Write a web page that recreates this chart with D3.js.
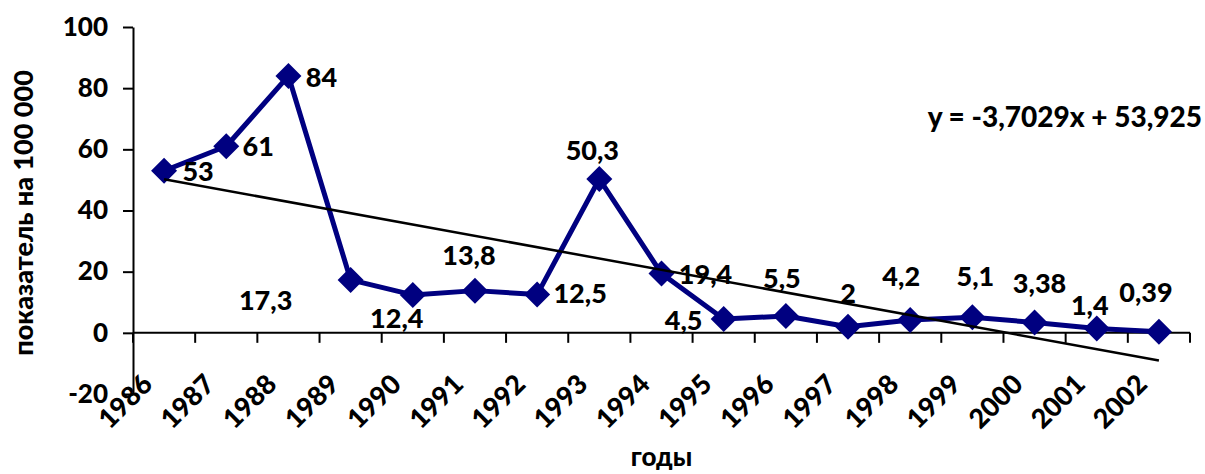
<!DOCTYPE html>
<html>
<head>
<meta charset="utf-8">
<script src="https://cdn.jsdelivr.net/npm/d3@7"></script>
<style>
  body { margin: 0; background: #fff; }
  text { font-family: Lato, "Open Sans", sans-serif; font-weight: 900; fill: #000; }
</style>
</head>
<body>
<svg id="chart" width="1205" height="474"></svg>
<script>
// Incidence per 100 000 population, by year
const years = ["1986", "1987", "1988", "1989", "1990", "1991", "1992", "1993", "1994",
               "1995", "1996", "1997", "1998", "1999", "2000", "2001", "2002"];
const values = [53, 61, 84, 17.3, 12.4, 13.8, 12.5, 50.3, 19.4, 4.5, 5.5, 2, 4.2, 5.1, 3.38, 1.4, 0.39];
const valueLabels = ["53", "61", "84", "17,3", "12,4", "13,8", "12,5", "50,3", "19,4",
                     "4,5", "5,5", "2", "4,2", "5,1", "3,38", "1,4", "0,39"];
const yTicks = [-20, 0, 20, 40, 60, 80, 100];

// Linear trend: y = slope * x + intercept, x = 1..n
const trendSlope = -3.7029;
const trendIntercept = 53.925;
const trendText = "y = -3,7029x + 53,925";

const yTitle = "показатель на 100 000";
const xTitle = "годы";

// Placement of each value label relative to its marker (px)
const labelOffsets = [[34, 1], [32, 0], [33, 1], [-85, 20], [-16, 23], [-6, -35], [43, -1],
                      [-7, -29], [44, 1], [-40, 1], [-4, -38], [0, -33], [-9, -44], [3, -41],
                      [5, -39], [-7, -23], [-13, -39]];

const svg = d3.select("#chart");
const plotLeft = 133, plotRight = 1190, plotTop = 27, plotBottom = 394;

const x = d3.scaleBand().domain(years).range([plotLeft, plotRight]).paddingInner(0).paddingOuter(0);
const y = d3.scaleLinear().domain([-20, 100]).range([plotBottom, plotTop]);
const cx = d => x(d) + x.bandwidth() / 2;
const y0 = y(0);

// Y axis
const yAxis = svg.append("g")
  .attr("transform", `translate(${plotLeft},0)`)
  .call(d3.axisLeft(y).tickValues(yTicks).tickFormat(d => String(d))
    .tickSize(10).tickSizeOuter(0).tickPadding(15));
yAxis.selectAll("path, line").attr("stroke", "#000").attr("stroke-width", 2);
yAxis.selectAll("text").attr("font-family", null).attr("font-size", null)
  .style("font-size", "26px");

// Category axis crossing at zero
svg.append("line")
  .attr("x1", plotLeft).attr("x2", plotRight).attr("y1", y0).attr("y2", y0)
  .attr("stroke", "#000").attr("stroke-width", 2);
const boundaries = d3.range(years.length + 1).map(i => plotLeft + i * x.step());
svg.append("g").selectAll("line").data(boundaries).join("line")
  .attr("x1", d => d).attr("x2", d => d)
  .attr("y1", y0).attr("y2", y0 + 10)
  .attr("stroke", "#000").attr("stroke-width", 2);

// Year labels, rotated, with opaque background
const xl = svg.append("g").selectAll("g").data(years).join("g")
  .attr("transform", d => `translate(${cx(d) - 10},${386}) rotate(-45)`);
xl.append("text")
  .attr("text-anchor", "end")
  .style("font-size", "27px")
  .text(d => d);
xl.each(function () {
  const g = d3.select(this);
  const bb = g.select("text").node().getBBox();
  g.insert("rect", "text")
    .attr("x", bb.x - 1).attr("y", bb.y + 3)
    .attr("width", bb.width + 2).attr("height", bb.height - 4)
    .attr("fill", "#fff");
});
// keep y tick labels above year labels
yAxis.raise();

// Series line
const line = d3.line().x((d, i) => cx(years[i])).y(d => y(d));
svg.append("path")
  .datum(values)
  .attr("d", line)
  .attr("fill", "none")
  .attr("stroke", "#000080")
  .attr("stroke-width", 5)
  .attr("stroke-linejoin", "round");

// Diamond markers
svg.append("g").selectAll("path").data(values).join("path")
  .attr("transform", (d, i) => `translate(${cx(years[i])},${y(d)})`)
  .attr("d", "M0,-13L13,0L0,13L-13,0Z")
  .attr("fill", "#000080");

// Trend line
const n = values.length;
svg.append("line")
  .attr("x1", cx(years[0])).attr("y1", y(trendSlope * 1 + trendIntercept))
  .attr("x2", cx(years[n - 1])).attr("y2", y(trendSlope * n + trendIntercept))
  .attr("stroke", "#000").attr("stroke-width", 2.5);

// Value labels
svg.append("g").selectAll("text").data(values).join("text")
  .attr("x", (d, i) => cx(years[i]) + labelOffsets[i][0])
  .attr("y", (d, i) => y(d) + labelOffsets[i][1])
  .attr("dy", "0.36em")
  .attr("text-anchor", "middle")
  .style("font-size", "27px")
  .text((d, i) => valueLabels[i]);

// Trend equation
svg.append("text")
  .attr("x", 1202).attr("y", 127)
  .attr("text-anchor", "end")
  .style("font-size", "28px")
  .text(trendText);

// Axis titles
svg.append("text")
  .attr("transform", `translate(33,213) rotate(-90)`)
  .attr("text-anchor", "middle")
  .style("font-size", "27px")
  .text(yTitle);
svg.append("text")
  .attr("x", (plotLeft + plotRight) / 2).attr("y", 466)
  .attr("text-anchor", "middle")
  .style("font-size", "26px")
  .text(xTitle);
</script>
</body>
</html>
